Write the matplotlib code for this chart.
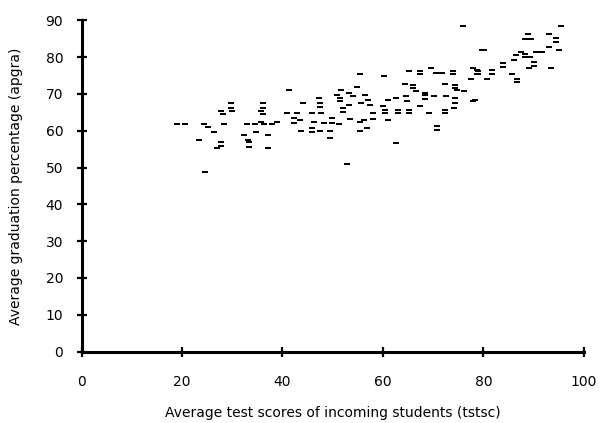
import matplotlib
matplotlib.use("Agg")
import matplotlib.pyplot as plt

# test scores (tstsc) and graduation percentage (apgra)
tstsc = [19.0, 20.6, 24.4, 25.1, 26.3, 23.4, 24.6, 27.8, 27.8, 26.9,
         29.7, 29.7, 27.8, 28.2, 30.0, 28.4, 33.0, 32.4, 33.2, 33.4,
         33.4, 36.1, 36.1, 35.7, 36.1, 35.8, 34.6, 36.4, 38.0, 34.7,
         37.1, 37.1, 55.5, 54.9, 41.3, 51.6, 53.3, 50.8, 54.0, 56.5,
         57.0, 47.3, 44.1, 47.4, 47.4, 51.5, 51.5, 52.0, 52.0, 53.3,
         55.6, 57.5, 58.1, 40.9, 42.9, 45.9, 47.6, 38.9, 42.3, 42.3,
         43.4, 46.2, 48.2, 49.8, 49.8, 51.2, 53.5, 55.5, 56.3, 58.1,
         43.7, 45.9, 45.9, 47.5, 49.4, 55.5, 56.8, 49.5, 52.9, 79.8,
         60.3, 65.2, 67.3, 67.3, 69.6, 70.6, 71.8, 73.9, 73.9, 78.0,
         78.9, 78.9, 77.6, 64.4, 65.9, 65.9, 66.6, 68.4, 72.4, 74.3,
         74.3, 76.1, 74.7, 64.6, 61.1, 62.6, 64.8, 68.3, 68.3, 70.1,
         72.5, 74.4, 74.4, 77.9, 60.1, 67.4, 74.1, 60.5, 60.5, 61.1,
         63.0, 63.0, 65.1, 65.1, 69.1, 72.4, 72.4, 70.8, 70.8, 62.6,
         95.5, 88.9, 93.1, 88.3, 89.5, 94.5, 94.5, 93.1, 95.1, 80.2,
         87.4, 90.4, 91.6, 86.5, 88.3, 88.3, 89.3, 86.2, 90.0, 90.0,
         89.0, 93.5, 84.0, 84.0, 78.7, 78.7, 81.7, 81.7, 85.7, 80.7,
         86.7, 86.7, 78.4, 75.9]
apgra = [61.8, 61.8, 61.8, 61.0, 59.6, 57.4, 48.7, 57.0, 55.9, 55.3,
         67.5, 66.3, 65.4, 64.5, 65.4, 61.8, 61.8, 58.8, 57.4, 56.8,
         55.6, 67.5, 66.3, 65.4, 64.5, 62.3, 61.8, 61.8, 61.8, 59.6,
         58.8, 55.3, 75.5, 71.9, 71.1, 71.1, 70.2, 69.8, 69.5, 69.8,
         68.4, 68.9, 67.5, 67.5, 66.5, 69.0, 68.0, 66.2, 65.2, 67.0,
         67.5, 67.0, 64.9, 64.8, 64.8, 64.8, 64.8, 62.5, 63.4, 62.2,
         62.8, 62.5, 62.1, 63.4, 62.2, 61.9, 63.2, 62.5, 63.0, 63.2,
         59.8, 60.6, 59.6, 59.8, 59.8, 59.8, 60.7, 58.0, 51.0, 82.0,
         74.9, 76.3, 76.3, 75.3, 77.0, 75.8, 75.8, 76.3, 75.3, 77.0,
         76.3, 75.3, 74.0, 72.7, 72.5, 71.5, 70.7, 70.2, 72.7, 72.5,
         71.5, 70.7, 71.1, 69.3, 68.4, 68.9, 68.2, 69.6, 68.6, 69.5,
         69.3, 68.9, 67.5, 68.2, 66.8, 66.6, 66.1, 65.7, 64.7, 63.0,
         65.7, 64.7, 65.7, 64.7, 64.8, 65.7, 64.7, 61.2, 60.2, 56.6,
         88.4, 86.2, 86.2, 84.9, 84.9, 85.2, 84.2, 82.7, 81.9, 81.9,
         81.4, 81.4, 81.4, 80.6, 80.9, 79.9, 79.9, 79.3, 78.6, 77.6,
         77.0, 77.0, 78.4, 77.4, 76.4, 75.4, 76.4, 75.4, 75.4, 74.0,
         74.1, 73.1, 68.4, 88.5]

x_ticks = [0, 20, 40, 60, 80, 100]
y_ticks = [0, 10, 20, 30, 40, 50, 60, 70, 80, 90]

plt.rcParams['font.family'] = ['DejaVu Sans']

fig = plt.figure(figsize=(6, 4.23), dpi=100)
ax = fig.add_axes([0.136, 0.169, 0.837, 0.783])

# short flat dash as marker
dash = [(-3, -1.2), (3, -1.2), (3, 1.2), (-3, 1.2), (-3, -1.2)]
ax.plot(tstsc, apgra, linestyle='none', marker=dash, markersize=4.4,
        color='black', markeredgewidth=0, clip_on=False)

ax.set_xlim(0, 100)
ax.set_ylim(0, 90)
ax.set_xticks(x_ticks)
ax.set_yticks(y_ticks)

for side in ['top', 'right']:
    ax.spines[side].set_visible(False)
for side in ['left', 'bottom']:
    ax.spines[side].set_linewidth(2.2)

ax.tick_params(direction='inout', length=6.5, width=1.6, labelsize=10, pad=10)
ax.tick_params(axis='x', pad=14)

ax.set_xlabel('Average test scores of incoming students (tstsc)', fontsize=10, labelpad=12)
ax.set_ylabel('Average graduation percentage (apgra)', fontsize=10, labelpad=16)

fig.savefig('out.png', dpi=100)
